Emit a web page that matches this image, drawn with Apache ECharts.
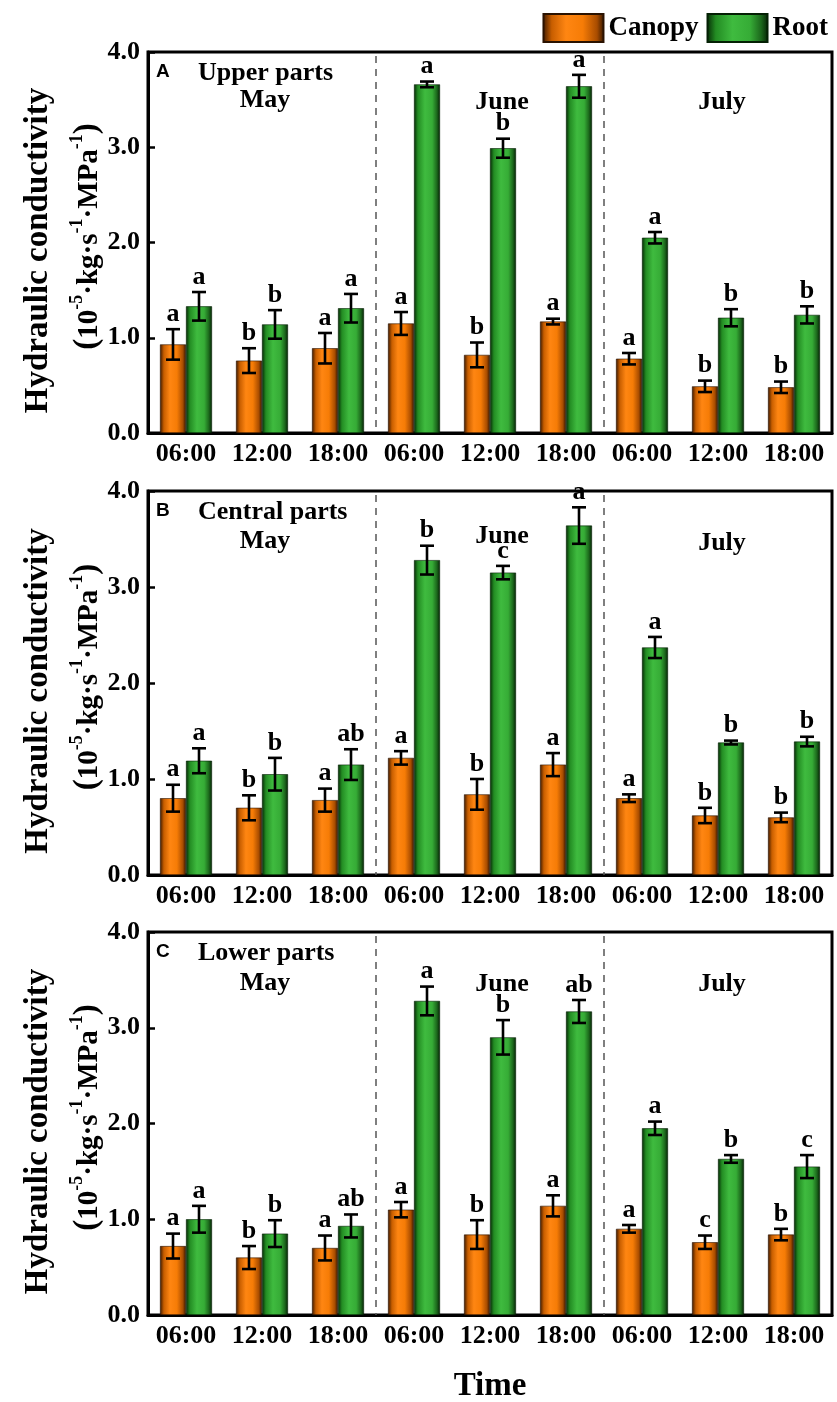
<!DOCTYPE html>
<html><head><meta charset="utf-8">
<script src="https://cdn.jsdelivr.net/npm/echarts@6/dist/echarts.min.js"></script>
<style>html,body{margin:0;padding:0;background:#fff}#c{width:837px;height:1402px}</style>
</head><body><div id="c"></div>
<script>
const categories = ['06:00','12:00','18:00','06:00','12:00','18:00','06:00','12:00','18:00'];
const months = ['May','June','July'];
const panelLabels = ['A','B','C'];
const panelTitles = ['Upper parts','Central parts','Lower parts'];
const yTicks = [0, 1, 2, 3, 4];

const canopyA    = [0.93, 0.76, 0.89, 1.15, 0.82, 1.17, 0.78, 0.49, 0.48];
const canopyAErr = [0.16, 0.13, 0.16, 0.12, 0.13, 0.03, 0.06, 0.06, 0.06];
const canopyALet = ['a','b','a','a','b','a','a','b','b'];
const rootA      = [1.33, 1.14, 1.31, 3.66, 2.99, 3.64, 2.05, 1.21, 1.24];
const rootAErr   = [0.15, 0.15, 0.15, 0.03, 0.10, 0.12, 0.06, 0.09, 0.09];
const rootALet   = ['a','b','a','a','b','a','a','b','b'];

const canopyB    = [0.80, 0.70, 0.78, 1.22, 0.84, 1.15, 0.80, 0.62, 0.60];
const canopyBErr = [0.14, 0.13, 0.12, 0.07, 0.16, 0.12, 0.04, 0.08, 0.05];
const canopyBLet = ['a','b','a','a','b','a','a','b','b'];
const rootB      = [1.19, 1.05, 1.15, 3.28, 3.15, 3.64, 2.37, 1.38, 1.39];
const rootBErr   = [0.13, 0.17, 0.16, 0.15, 0.07, 0.19, 0.11, 0.02, 0.05];
const rootBLet   = ['a','b','ab','b','c','a','a','b','b'];

const canopyC    = [0.72, 0.60, 0.70, 1.10, 0.84, 1.14, 0.90, 0.76, 0.84];
const canopyCErr = [0.13, 0.12, 0.13, 0.08, 0.15, 0.11, 0.04, 0.07, 0.06];
const canopyCLet = ['a','b','a','a','b','a','a','c','b'];
const rootC      = [1.00, 0.85, 0.93, 3.28, 2.90, 3.17, 1.95, 1.63, 1.55];
const rootCErr   = [0.14, 0.14, 0.12, 0.15, 0.18, 0.12, 0.07, 0.04, 0.12];
const rootCLet   = ['a','b','ab','a','b','ab','a','b','c'];

const panels = [
  {canopy: canopyA, cErr: canopyAErr, cLet: canopyALet, root: rootA, rErr: rootAErr, rLet: rootALet},
  {canopy: canopyB, cErr: canopyBErr, cLet: canopyBLet, root: rootB, rErr: rootBErr, rLet: rootBLet},
  {canopy: canopyC, cErr: canopyCErr, cLet: canopyCLet, root: rootC, rErr: rootCErr, rLet: rootCLet}
];

const SERIF = '"Liberation Serif","Times New Roman",serif';
const gridTops = [52, 491, 932];
const gridHeights = [381, 384, 383];
const monthYOff = [[48, 50, 50], [50, 45, 52], [51, 52, 52]];
const GL = 148, GW = 684, BW = 26;

const orangeGrad = {type:'linear', x:0, y:0, x2:1, y2:0, colorStops:[
  {offset:0, color:'#3a1800'},{offset:0.15, color:'#c85e00'},{offset:0.38, color:'#ff8612'},
  {offset:0.65, color:'#f67c06'},{offset:0.88, color:'#a84c00'},{offset:1, color:'#2e1400'}]};
const greenGrad = {type:'linear', x:0, y:0, x2:1, y2:0, colorStops:[
  {offset:0, color:'#052805'},{offset:0.15, color:'#238c23'},{offset:0.42, color:'#3fbb3f'},
  {offset:0.7, color:'#36ac36'},{offset:0.88, color:'#1c681c'},{offset:1, color:'#042004'}]};

function errRender(values, errs, letters, offset) {
  return function (params, api) {
    const i = params.dataIndex;
    const v = values[i], e = errs[i];
    const hi = api.coord([i, v + e]);
    const lo = api.coord([i, v - e]);
    const x = hi[0] + offset;
    const st = {stroke:'#000', lineWidth:2.6};
    return {type:'group', children:[
      {type:'line', shape:{x1:x, y1:hi[1], x2:x, y2:lo[1]}, style:st},
      {type:'line', shape:{x1:x-7, y1:hi[1], x2:x+7, y2:hi[1]}, style:st},
      {type:'line', shape:{x1:x-7, y1:lo[1], x2:x+7, y2:lo[1]}, style:st},
      {type:'text', x:x, y:hi[1]-2, style:{text:letters[i], fill:'#000',
        font:'bold 26px ' + SERIF, align:'center', verticalAlign:'bottom'}}
    ]};
  };
}

function dashRender(params, api) {
  const cs = params.coordSys;
  const a = api.coord([api.value(0), 0]);
  const b = api.coord([api.value(1), 0]);
  const x = (a[0] + b[0]) / 2;
  return {type:'line', shape:{x1:x, y1:cs.y + 4, x2:x, y2:cs.y + cs.height},
    style:{stroke:'#555', lineWidth:1.5, lineDash:[7,6]}};
}

const grid = [], xAxis = [], yAxis = [], series = [], graphic = [];
panels.forEach((p, k) => {
  grid.push({left:GL, width:GW, top:gridTops[k], height:gridHeights[k], show:true,
    borderColor:'#000', borderWidth:3, backgroundColor:'transparent'});
  xAxis.push({type:'category', gridIndex:k, data:categories,
    axisLine:{show:true, lineStyle:{color:'#000', width:3}}, axisTick:{show:false},
    axisLabel:{interval:0, color:'#000', fontFamily:SERIF, fontWeight:'bold', fontSize:26, margin:8}});
  yAxis.push({type:'value', gridIndex:k, min:yTicks[0], max:yTicks[yTicks.length-1], interval:1,
    splitLine:{show:false}, axisLine:{show:true, lineStyle:{color:'#000', width:3}},
    axisTick:{show:true, inside:true, length:7, lineStyle:{color:'#000', width:2.5}},
    axisLabel:{color:'#000', fontFamily:SERIF, fontWeight:'bold', fontSize:26, margin:8,
      formatter: v => v.toFixed(1)}});
  series.push({name:'Canopy', type:'bar', xAxisIndex:k, yAxisIndex:k, data:p.canopy, barWidth:BW, barGap:'0%',
    itemStyle:{color:orangeGrad, borderColor:'#2a1200', borderWidth:0.6}});
  series.push({name:'Root', type:'bar', xAxisIndex:k, yAxisIndex:k, data:p.root, barWidth:BW, barGap:'0%',
    itemStyle:{color:greenGrad, borderColor:'#042004', borderWidth:0.6}});
  series.push({name:'errC'+k, type:'custom', xAxisIndex:k, yAxisIndex:k, z:5,
    data:p.canopy.map((v,i)=>[i,v]), renderItem: errRender(p.canopy, p.cErr, p.cLet, -BW/2)});
  series.push({name:'errR'+k, type:'custom', xAxisIndex:k, yAxisIndex:k, z:5,
    data:p.root.map((v,i)=>[i,v]), renderItem: errRender(p.root, p.rErr, p.rLet, BW/2)});
  series.push({name:'dash'+k, type:'custom', xAxisIndex:k, yAxisIndex:k, z:1,
    data:[[2,3],[5,6]], renderItem: dashRender});

  const t = gridTops[k], h = gridHeights[k];
  graphic.push({type:'text', left:156, top:t+10, style:{text:panelLabels[k], fill:'#000',
    font:'bold 19px "Liberation Sans",Arial,sans-serif'}});
  graphic.push({type:'text', x:198, y:t+21, style:{text:panelTitles[k], fill:'#000',
    font:'bold 26px ' + SERIF, align:'left', verticalAlign:'middle'}});
  const monthX = [265, 502, 722];
  months.forEach((m, j) => {
    graphic.push({type:'text', x:monthX[j], y:t + monthYOff[k][j], style:{text:m, fill:'#000',
      font:'bold 26px ' + SERIF, align:'center', verticalAlign:'middle'}});
  });
  const cy = t + h/2 + 8;
  graphic.push({type:'text', x:38, y:cy, rotation:Math.PI/2, style:{text:'Hydraulic conductivity',
    fill:'#000', font:'bold 33px ' + SERIF, align:'center', verticalAlign:'middle'}});
  graphic.push({type:'text', x:86, y:cy - 14, rotation:Math.PI/2, style:{
    text:'{q|(}{p|10}{s|-5}{p|·kg·s}{s|-1}{p|·MPa}{s|-1}{q|)}',
    align:'center', verticalAlign:'middle',
    rich:{
      q:{fontFamily:SERIF, fontWeight:'bold', fontSize:33, fill:'#000', color:'#000', lineHeight:36, verticalAlign:'bottom'},
      p:{fontFamily:SERIF, fontWeight:'bold', fontSize:29, fill:'#000', color:'#000', lineHeight:36, verticalAlign:'bottom'},
      s:{fontFamily:SERIF, fontWeight:'bold', fontSize:18, fill:'#000', color:'#000', lineHeight:36, verticalAlign:'top'}
    }}});
});
graphic.push({type:'text', x:490, y:1386, style:{text:'Time', fill:'#000', font:'bold 33px ' + SERIF,
  align:'center', verticalAlign:'middle'}});

const chart = echarts.init(document.getElementById('c'), null, {renderer:'canvas'});
chart.setOption({
  animation:false,
  backgroundColor:'#fff',
  legend:{data:['Canopy','Root'], right:4, top:8, itemWidth:60, itemHeight:28, itemGap:8, icon:'rect',
    textStyle:{color:'#000', fontFamily:SERIF, fontWeight:'bold', fontSize:27}},
  grid, xAxis, yAxis, series, graphic
});
</script></body></html>
